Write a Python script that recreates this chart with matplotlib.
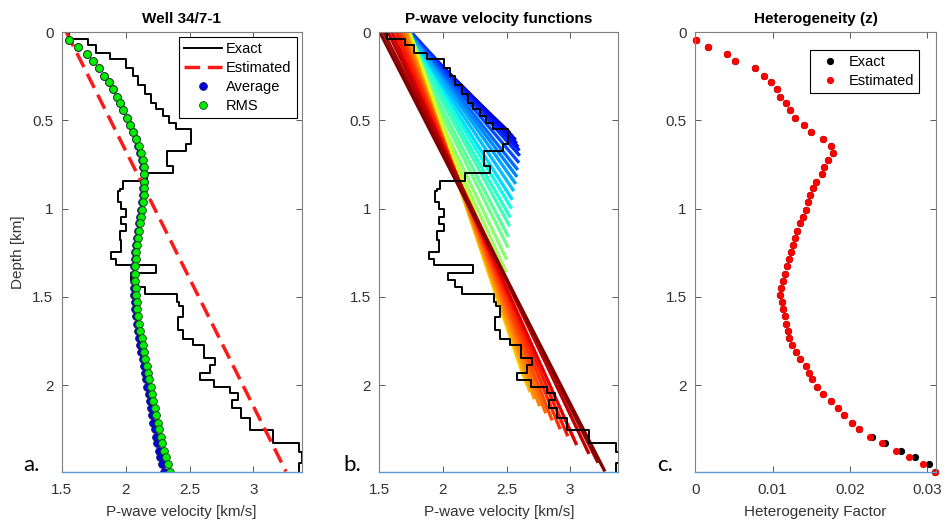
import matplotlib
matplotlib.use('Agg')
import matplotlib.pyplot as plt

plt.rcParams['font.family'] = ['Liberation Sans', 'DejaVu Sans']

# exact layered model: top depth of each layer [km] and its velocity [km/s]
layer_top = [0.000, 0.038, 0.070, 0.117, 0.154, 0.200, 0.249, 0.296, 0.352,
             0.399, 0.437, 0.475, 0.512, 0.550, 0.635, 0.672, 0.757, 0.795,
             0.842, 0.889, 0.898, 0.964, 1.000, 1.049, 1.087, 1.124, 1.175,
             1.246, 1.284, 1.322, 1.365, 1.407, 1.445, 1.482, 1.528, 1.550,
             1.613, 1.689, 1.736, 1.774, 1.849, 1.887, 1.934, 1.972, 2.009,
             2.047, 2.085, 2.132, 2.189, 2.255, 2.330, 2.377, 2.440]
layer_vel = [1.56, 1.706, 1.77, 1.875, 2.005, 2.057, 2.096, 2.148, 2.20,
             2.24, 2.29, 2.34, 2.396, 2.51, 2.47, 2.32, 2.37, 2.17,
             1.98, 1.955, 1.94, 1.966, 2.005, 1.966, 2.005, 1.955, 1.966,
             1.888, 1.927, 2.24, 2.04, 2.097, 2.149, 2.40, 2.42, 2.45,
             2.41, 2.45, 2.53, 2.61, 2.70, 2.66, 2.58, 2.69, 2.82,
             2.88, 2.83, 2.90, 2.975, 3.15, 3.36, 3.38, 3.36]
max_depth = 2.49

# estimated linear velocity (end points)
est_depth = [0.0, 2.49]
est_vel = [1.537, 3.255]

# sampled depths for average / rms velocities and heterogeneity
sample_depth = [0.045, 0.083, 0.122, 0.164, 0.205, 0.245, 0.282, 0.324, 0.365,
                0.403, 0.442, 0.484, 0.525, 0.565, 0.603, 0.644, 0.685, 0.725,
                0.763, 0.804, 0.846, 0.883, 0.923, 0.964, 1.006, 1.045, 1.083,
                1.124, 1.166, 1.205, 1.247, 1.288, 1.326, 1.369, 1.410, 1.450,
                1.492, 1.529, 1.571, 1.610, 1.651, 1.693, 1.733, 1.774, 1.812,
                1.853, 1.891, 1.930, 1.968, 2.010, 2.051, 2.090, 2.128, 2.171,
                2.213, 2.250, 2.292, 2.329, 2.371, 2.409, 2.448, 2.490]
vel_rms = [1.56, 1.63, 1.695, 1.745, 1.79, 1.833, 1.868, 1.905, 1.932, 1.958,
           1.982, 2.01, 2.035, 2.06, 2.083, 2.104, 2.12, 2.132, 2.14, 2.145,
           2.147, 2.145, 2.141, 2.135, 2.127, 2.118, 2.11, 2.102, 2.096, 2.09,
           2.085, 2.08, 2.077, 2.076, 2.077, 2.079, 2.082, 2.086, 2.092, 2.10,
           2.107, 2.116, 2.125, 2.134, 2.144, 2.154, 2.164, 2.174, 2.184, 2.195,
           2.206, 2.217, 2.228, 2.24, 2.252, 2.264, 2.276, 2.288, 2.30, 2.314,
           2.328, 2.344]
vel_avg = [1.56, 1.629, 1.694, 1.744, 1.789, 1.831, 1.866, 1.903, 1.93, 1.956,
           1.979, 2.007, 2.032, 2.057, 2.08, 2.10, 2.116, 2.128, 2.136, 2.14,
           2.141, 2.139, 2.135, 2.129, 2.12, 2.111, 2.103, 2.094, 2.088, 2.082,
           2.076, 2.071, 2.067, 2.065, 2.066, 2.067, 2.069, 2.072, 2.077, 2.084,
           2.09, 2.098, 2.106, 2.114, 2.123, 2.132, 2.141, 2.15, 2.159, 2.169,
           2.179, 2.188, 2.198, 2.208, 2.218, 2.228, 2.238, 2.248, 2.258, 2.27,
           2.282, 2.30]
het_est = [0.0001, 0.00167, 0.00413, 0.00521, 0.00771, 0.00887, 0.00974,
           0.01052, 0.01094, 0.01172, 0.01228, 0.01288, 0.01405, 0.01499,
           0.01647, 0.0175, 0.01784, 0.01719, 0.0166, 0.01634, 0.01556,
           0.01517, 0.01483, 0.0146, 0.01427, 0.01388, 0.01353, 0.01318,
           0.01288, 0.01259, 0.01233, 0.01215, 0.01181, 0.01159, 0.01137,
           0.01111, 0.01094, 0.01116, 0.01137, 0.01159, 0.01172, 0.01194,
           0.01215, 0.01246, 0.01301, 0.01353, 0.01427, 0.01473, 0.01505,
           0.01569, 0.01655, 0.01754, 0.01841, 0.01926, 0.02022, 0.02116,
           0.02259, 0.02418, 0.02595, 0.02767, 0.02948, 0.0310]
het_exact = [0.0001, 0.00167, 0.00413, 0.00521, 0.00771, 0.00887, 0.00974,
             0.01052, 0.01094, 0.01172, 0.01228, 0.01288, 0.01405, 0.01499,
             0.01647, 0.0175, 0.01784, 0.01719, 0.0166, 0.01634, 0.01556,
             0.01517, 0.01483, 0.0146, 0.01427, 0.01388, 0.01353, 0.01318,
             0.01288, 0.01259, 0.01233, 0.01215, 0.01181, 0.01159, 0.01137,
             0.01111, 0.01094, 0.01116, 0.01137, 0.01159, 0.01172, 0.01194,
             0.01215, 0.01246, 0.01301, 0.01353, 0.01427, 0.01473, 0.01505,
             0.01569, 0.01655, 0.01754, 0.01841, 0.01926, 0.02022, 0.02116,
             0.02281, 0.02453, 0.02656, 0.02845, 0.03026, 0.0310]

# family of linear velocity functions v = v0 + k*z, drawn down to zmax
fan_v0 = [1.70, 1.71, 1.73, 1.73, 1.74, 1.75, 1.75, 1.74, 1.73, 1.73,
          1.73, 1.72, 1.71, 1.71, 1.70, 1.70, 1.68, 1.67, 1.65, 1.64,
          1.74, 1.735, 1.73, 1.725, 1.72, 1.715, 1.71, 1.70, 1.685, 1.67,
          1.65, 1.63, 1.60, 1.57, 1.535, 1.505]
fan_k = [1.45, 1.42, 1.38, 1.35, 1.31, 1.27, 1.22, 1.16, 1.10, 1.04,
         0.98, 0.93, 0.88, 0.83, 0.79, 0.75, 0.72, 0.69, 0.66, 0.63,
         0.50, 0.475, 0.465, 0.465, 0.47, 0.475, 0.485, 0.50, 0.52, 0.54,
         0.565, 0.59, 0.62, 0.66, 0.69, 0.71]
fan_zmax = [0.57, 0.59, 0.61, 0.63, 0.65, 0.67, 0.70, 0.74, 0.78, 0.82,
            0.86, 0.90, 0.95, 1.00, 1.05, 1.10, 1.16, 1.22, 1.29, 1.36,
            1.50, 1.70, 1.85, 1.95, 2.00, 2.04, 2.08, 2.12, 2.16, 2.20,
            2.25, 2.29, 2.34, 2.39, 2.44, 2.49]


def staircase(tops, vels, bottom):
    z, v = [], []
    bounds = list(tops[1:]) + [bottom]
    for t, b, vel in zip(tops, bounds, vels):
        z += [t, b]
        v += [vel, vel]
    return v, z


def style(ax, xlim, xticks, xlabels, title, xlabel):
    ax.set_xlim(*xlim)
    ax.set_ylim(max_depth, 0)
    ax.set_xticks(xticks)
    ax.set_xticklabels(xlabels)
    ax.set_yticks([0, 0.5, 1, 1.5, 2])
    ax.set_yticklabels(['0', '0.5', '1', '1.5', '2'])
    ax.tick_params(direction='in', top=True, right=True, length=4,
                   width=0.6, color='#404040', labelcolor='#333333',
                   labelsize=11, pad=6)
    ax.tick_params(axis='x', pad=8)
    for s in ax.spines.values():
        s.set_color('#7f7f7f')
        s.set_linewidth(0.8)
    ax.spines['bottom'].set_color('#5b9bd5')
    ax.spines['bottom'].set_linewidth(1.0)
    ax.set_title(title, fontsize=11, fontweight='bold', pad=7)
    ax.set_xlabel(xlabel, fontsize=11, color='#333333', labelpad=6)


fig = plt.figure(figsize=(9.47, 5.26), dpi=100)
ax_a = fig.add_axes([0.0652, 0.1036, 0.2534, 0.835])
ax_b = fig.add_axes([0.4005, 0.1036, 0.2524, 0.835])
ax_c = fig.add_axes([0.7341, 0.1036, 0.2540, 0.835])

ex_v, ex_z = staircase(layer_top, layer_vel, max_depth)

# panel a
ax_a.plot(ex_v, ex_z, color='black', lw=1.4, label='Exact')
ax_a.plot(est_vel, est_depth, color='#ff1a1a', lw=2.5,
          linestyle=(0, (4.5, 2.2)), label='Estimated')
ax_a.plot(vel_avg, sample_depth, 'o', ms=5.6, mfc='#0000e0', mec='#1a1a60',
          mew=0.6, label='Average')
ax_a.plot(vel_rms, sample_depth, 'o', ms=5.6, mfc='#00ee00', mec='#1a3a1a',
          mew=0.6, label='RMS')
style(ax_a, (1.5, 3.378), [1.5, 2, 2.5, 3], ['1.5', '2', '2.5', '3'],
      'Well 34/7-1', 'P-wave velocity [km/s]')
ax_a.set_ylabel('Depth [km]', fontsize=11, color='#333333', labelpad=5)
leg = ax_a.legend(loc='upper right', bbox_to_anchor=(0.979, 0.99),
                  borderaxespad=0, fancybox=False, framealpha=1,
                  edgecolor='black', fontsize=10.5, handlelength=2.6,
                  labelspacing=0.35, borderpad=0.35, handletextpad=0.3)
leg.get_frame().set_linewidth(0.8)

# panel b
n = len(fan_v0)
for i in range(n):
    z_end = fan_zmax[i]
    ax_b.plot([fan_v0[i], fan_v0[i] + fan_k[i] * z_end], [0, z_end],
              color=plt.cm.jet(i / (n - 1)), lw=2.4, solid_capstyle='butt')
ax_b.plot(ex_v, ex_z, color='black', lw=1.4)
style(ax_b, (1.5, 3.378), [1.5, 2, 2.5, 3], ['1.5', '2', '2.5', '3'],
      'P-wave velocity functions', 'P-wave velocity [km/s]')

# panel c
ax_c.plot(het_exact, sample_depth, 'o', ms=5.2, color='black', mec='none',
          label='Exact', clip_on=False)
ax_c.plot(het_est, sample_depth, 'o', ms=5.2, color='#ff0000', mec='none',
          label='Estimated', clip_on=False)
style(ax_c, (0, 0.0311), [0, 0.01, 0.02, 0.03], ['0', '0.01', '0.02', '0.03'],
      'Heterogeneity (z)', 'Heterogeneity Factor')
leg = ax_c.legend(loc='upper right', bbox_to_anchor=(0.932, 0.96),
                  borderaxespad=0, fancybox=False, framealpha=1,
                  edgecolor='black', fontsize=10.5, handlelength=2.0,
                  labelspacing=0.35, borderpad=0.35, handletextpad=0.3)
leg.get_frame().set_linewidth(0.8)

for x, s in [(23, 'a.'), (343, 'b.'), (657, 'c.')]:
    fig.text(x / 947, 1 - 471 / 526, s, fontsize=16, family=['Lato', 'DejaVu Sans'],
             va='baseline', ha='left')

fig.savefig('out.png', dpi=100)
